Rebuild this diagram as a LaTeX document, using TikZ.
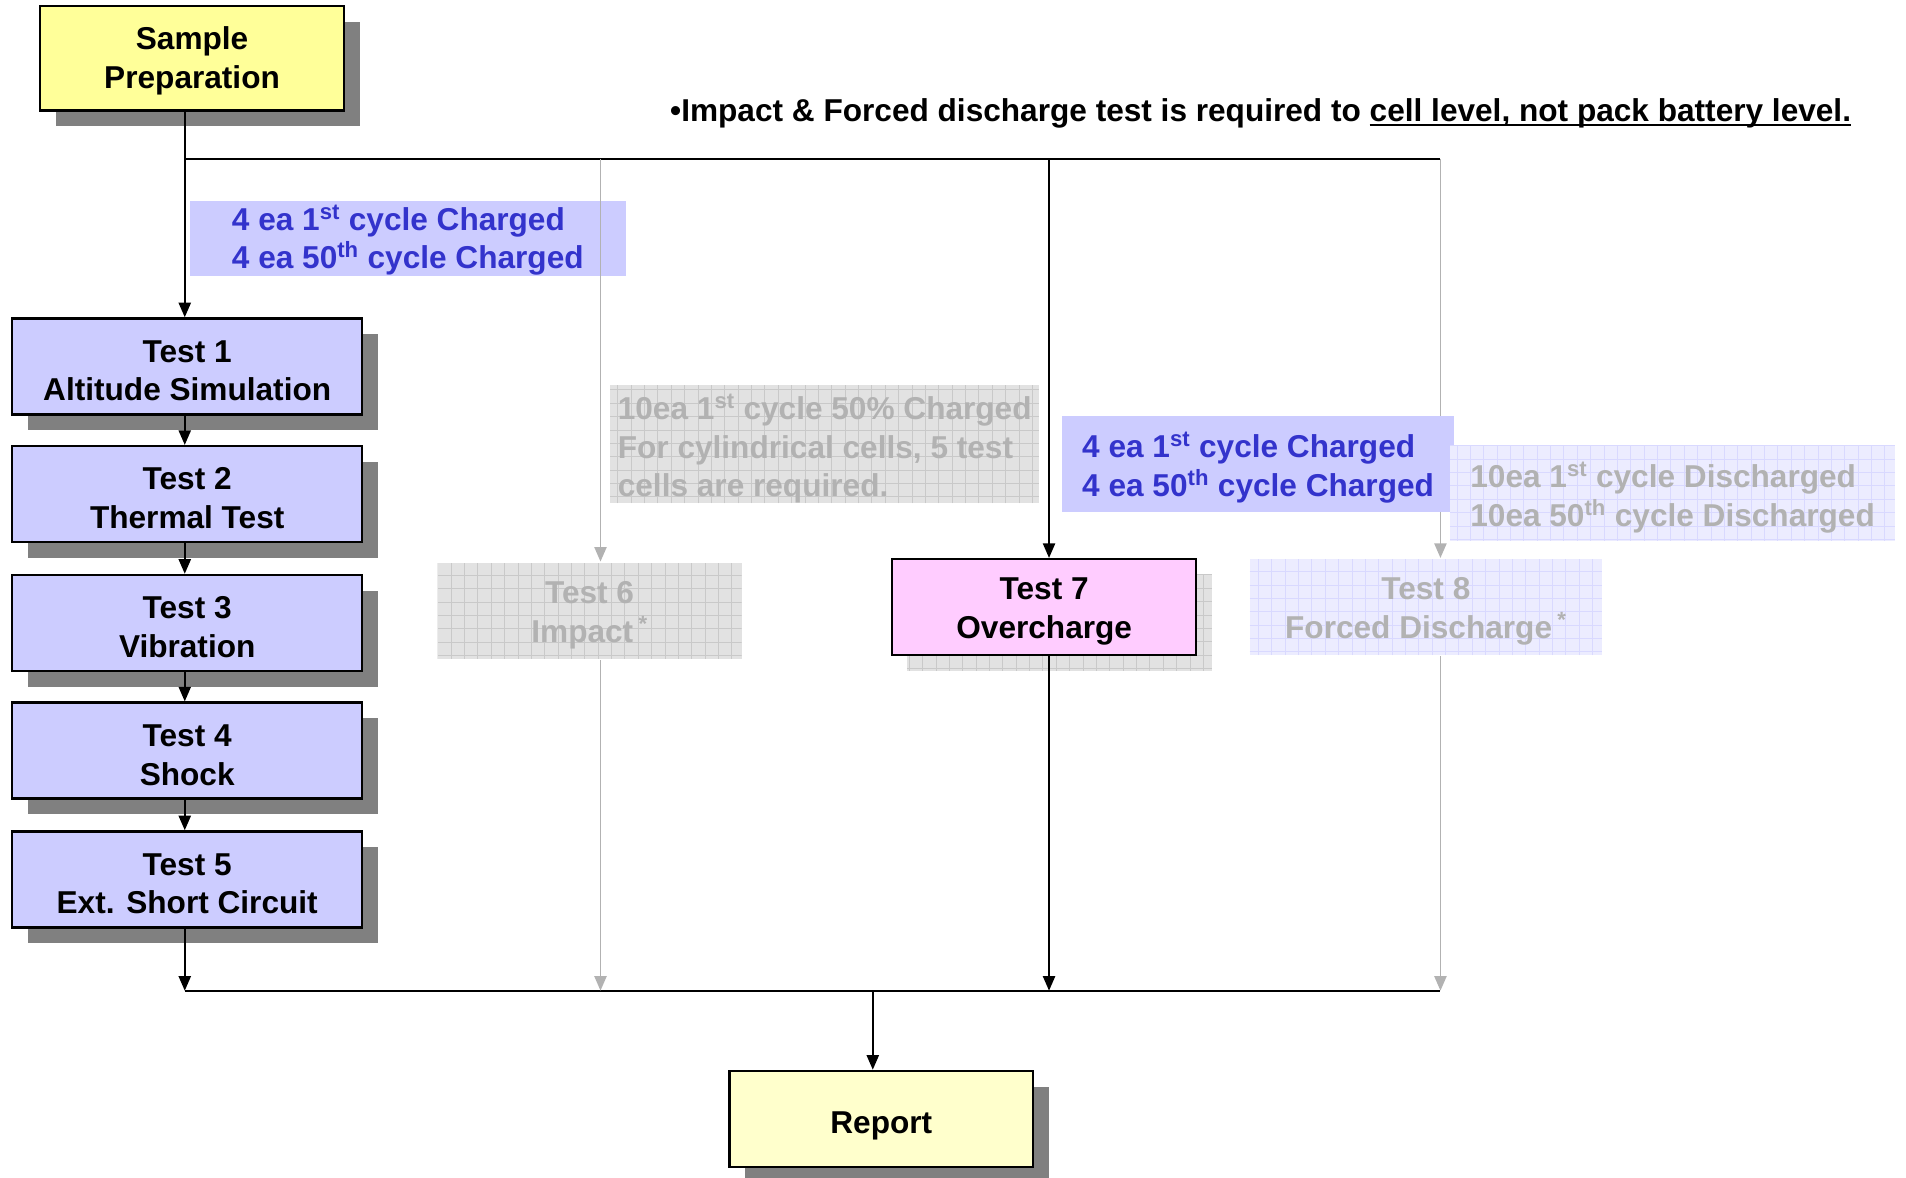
\documentclass[tikz,border=0pt]{standalone}
\usepackage{fontspec}
\setmainfont{Liberation Sans}
\usetikzlibrary{arrows.meta,shadows}

\definecolor{boxblue}{HTML}{CCCCFF}
\definecolor{boxyellow}{HTML}{FFFF99}
\definecolor{repyellow}{HTML}{FFFFCC}
\definecolor{boxpink}{HTML}{FFCCFF}
\definecolor{txtblue}{HTML}{3333CC}
\definecolor{txtgrey}{HTML}{B2B2B2}
\definecolor{gridgrey}{HTML}{E2E2E2}
\definecolor{gridgreyline}{HTML}{C9C9C9}
\definecolor{gridlav}{HTML}{ECECFF}
\definecolor{gridlavline}{HTML}{D9D9FF}
\definecolor{shadowgrey}{HTML}{808080}

\newcommand{\ulnote}[1]{\setbox0\hbox{#1}\rlap{\rule[-4pt]{\wd0}{1.6pt}}\box0}
\newcommand{\topstrut}[1][25pt]{\rule{0pt}{#1}}

\tikzset{
	txt/.style={font=\bfseries\fontsize{26}{32}\selectfont},
	box/.style={txt, draw=black, line width=2pt, rectangle, align=center, inner sep=0pt,
		minimum width=288pt, minimum height=79pt},
	shadowed/.style={drop shadow={shadow xshift=13pt, shadow yshift=-13pt, fill=shadowgrey, opacity=1}},
	gridbox/.style 2 args={fill=#1, path picture={
		\draw[#2, line width=0.8pt, step=11pt] (path picture bounding box.south west) grid (path picture bounding box.north east);}},
	lab/.style={txt, rectangle, align=left, inner sep=0pt},
	line/.style={draw=black, line width=1.5pt},
	arr/.style={line, -{Triangle[length=12pt,width=10pt]}},
	greyarr/.style={arr, draw=txtgrey, fill=txtgrey}
}

\begin{document}
\begin{tikzpicture}[x=1pt, y=-1pt]
		\useasboundingbox (0,0) rectangle (1568,969);
		
		%%%%% BOXES %%%%%
		\path[gridbox={gridgrey}{gridgreyline}] (746,473) rectangle (997,552);
		
		\node[box, shadowed, fill=boxyellow, minimum width=250pt, minimum height=86pt] (prep) at (158,48) {\topstrut[23pt]Sample\\Preparation};
		
		\node[box, shadowed, fill=boxblue] (t1) at (154,301.5) {\topstrut Test 1\\Altitude Simulation};
		\node[box, shadowed, fill=boxblue] (t2) at (154,406.5) {\topstrut Test 2\\Thermal Test};
		\node[box, shadowed, fill=boxblue] (t3) at (154,512.5) {\topstrut Test 3\\Vibration};
		\node[box, shadowed, fill=boxblue] (t4) at (154,617.5) {\topstrut Test 4\\Shock};
		\node[box, shadowed, fill=boxblue] (t5) at (154,723.5) {\topstrut Test 5\\Ext. Short Circuit};
		
		\node[box, draw=none, gridbox={gridgrey}{gridgreyline}, text=txtgrey, minimum width=250pt] (t6) at (485,502.5) {\topstrut Test 6\\Impact\,\textsuperscript{*}};
		\node[box, fill=boxpink, minimum width=250pt] (t7) at (859,499.5) {\topstrut Test 7\\Overcharge};
		\node[box, draw=none, gridbox={gridlav}{gridlavline}, text=txtgrey, minimum width=290pt] (t8) at (1173,499.5) {\topstrut Test 8\\Forced Discharge\,\textsuperscript{*}};
		
		\node[box, shadowed, fill=repyellow, minimum width=250pt] (report) at (725,920.5) {\topstrut[30pt]Report};
		
		\node[lab, fill=boxblue, text=txtblue, minimum width=359pt, minimum height=62pt] (lab1) at (335.5,196)
			{\topstrut[24pt]4 ea 1\textsuperscript{st} cycle Charged\\4 ea 50\textsuperscript{th} cycle Charged};
		
		%%%%% CONNECTORS %%%%%
		\coordinate (topL) at (152,131);
		\coordinate (topR) at (1185,131);
		\coordinate (botL) at (152,815);
		\coordinate (botR) at (1185,815);
		\coordinate (c6) at (494,131);
		\coordinate (c7) at (863,131);
		\coordinate (crep) at (718,815);
		
		\draw[line] (topL) -- (topR);
		\draw[line] (botL) -- (botR);
		
		\draw[arr] (prep.south -| topL) -- (t1.north -| topL);
		\draw[arr] (t1.south -| topL) -- (t2.north -| topL);
		\draw[arr] (t2.south -| topL) -- (t3.north -| topL);
		\draw[arr] (t3.south -| topL) -- (t4.north -| topL);
		\draw[arr] (t4.south -| topL) -- (t5.north -| topL);
		\draw[arr] (t5.south -| topL) -- (botL);
		
		\draw[greyarr] (c6) -- (c6 |- t6.north);
		\draw[greyarr] (c6 |- t6.south) -- (c6 |- botL);
		\draw[arr] (c7) -- (c7 |- t7.north);
		\draw[arr] (c7 |- t7.south) -- (c7 |- botL);
		\draw[greyarr] (topR) -- (topR |- t8.north);
		\draw[greyarr] (topR |- t8.south) -- (botR);
		
		\draw[arr] (crep) -- (report.north -| crep);
		
		%%%%% LABELS %%%%%
		\node[lab, gridbox={gridgrey}{gridgreyline}, text=txtgrey, minimum width=353pt, minimum height=95pt] (lab6) at (678.5,365.5)
			{\topstrut[28pt]10ea 1\textsuperscript{st} cycle 50\% Charged\\For cylindrical cells, 5 test\\cells are required.};
		\node[lab, fill=boxblue, text=txtblue, minimum width=322pt, minimum height=79pt] (lab7) at (1035,381.5)
			{\topstrut[28pt]4 ea 1\textsuperscript{st} cycle Charged\\4 ea 50\textsuperscript{th} cycle Charged};
		\node[lab, gridbox={gridlav}{gridlavline}, text=txtgrey, minimum width=366pt, minimum height=79pt] (lab8) at (1376,405.5)
			{\topstrut[28pt]10ea 1\textsuperscript{st} cycle Discharged\\10ea 50\textsuperscript{th} cycle Discharged};
		
		\node[txt, anchor=base east, inner sep=0pt] (note) at (1523,100)
			{•Impact \& Forced discharge test is required to \ulnote{cell level, not pack battery level.}};
		
	\end{tikzpicture}
\end{document}
